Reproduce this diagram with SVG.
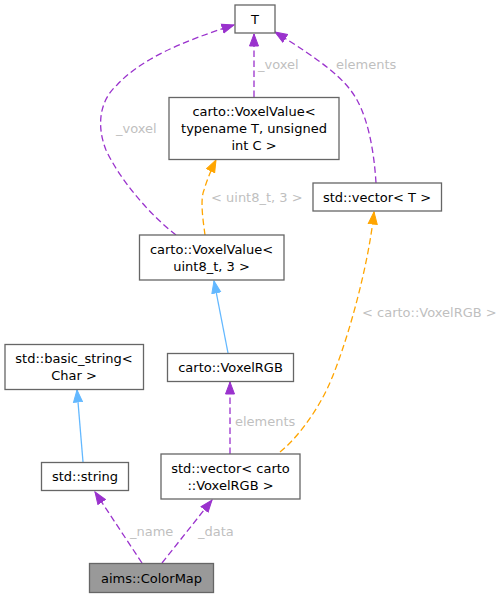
<svg xmlns="http://www.w3.org/2000/svg" width="501" height="597" viewBox="0 0 501 597">
<style>
.node rect{fill:#ffffff;stroke:#666666;stroke-width:1.3}
.node.cur rect{fill:#999999}
text{font-family:"DejaVu Sans","Liberation Sans",sans-serif;font-size:13px;fill:#000000}
.node text{text-anchor:middle}
.lbl{fill:#bfbfbf}
.e{fill:none;stroke-width:1.3}
.purple{stroke:#9a32cd;stroke-dasharray:6.5,3.5}
.orange{stroke:#ffa500;stroke-dasharray:6.5,3.5}
.blue{stroke:#63b8ff}
</style>
<defs>
<marker id="ap" markerUnits="userSpaceOnUse" markerWidth="14" markerHeight="11" refX="12.5" refY="5.5" orient="auto"><path d="M0.5,1 L12.5,5.5 L0.5,10 z" fill="#9a32cd" stroke="#9a32cd"/></marker>
<marker id="ao" markerUnits="userSpaceOnUse" markerWidth="14" markerHeight="11" refX="12.5" refY="5.5" orient="auto"><path d="M0.5,1 L12.5,5.5 L0.5,10 z" fill="#ffa500" stroke="#ffa500"/></marker>
<marker id="ab" markerUnits="userSpaceOnUse" markerWidth="14" markerHeight="11" refX="12.5" refY="5.5" orient="auto"><path d="M0.5,1 L12.5,5.5 L0.5,10 z" fill="#63b8ff" stroke="#63b8ff"/></marker>
</defs>
<g id="edges">
<path class="e blue" d="M83,462 L77,390" marker-end="url(#ab)"/>
<path class="e blue" d="M228,353 L214,281" marker-end="url(#ab)"/>
<path class="e purple" d="M230,454 L230,382" marker-end="url(#ap)"/>
<text class="lbl" x="235" y="426">elements</text>
<path class="e purple" d="M142,563 L95,492" marker-end="url(#ap)"/>
<text class="lbl" x="130" y="536">_name</text>
<path class="e purple" d="M162,563 L212,500" marker-end="url(#ap)"/>
<text class="lbl" x="198" y="536">_data</text>
<path class="e orange" d="M280,452 C295,440 315,415 328,387 C345,350 368,270 374,212" marker-end="url(#ao)"/>
<text class="lbl" x="362" y="317">&lt; carto::VoxelRGB &gt;</text>
<path class="e orange" d="M205,235 C203,220 200,200 204,190 C207,180 211,170 216,160" marker-end="url(#ao)"/>
<text class="lbl" x="211" y="202">&lt; uint8_t, 3 &gt;</text>
<path class="e purple" d="M176,235 C150,215 120,180 106,150 C96,125 100,100 117,85 C140,60 180,42 234,25" marker-end="url(#ap)"/>
<text class="lbl" x="116" y="133">_voxel</text>
<path class="e purple" d="M254,97 L254,34" marker-end="url(#ap)"/>
<text class="lbl" x="258" y="69">_voxel</text>
<path class="e purple" d="M376,183 C374,150 368,120 357,100 C345,78 320,60 275,32" marker-end="url(#ap)"/>
<text class="lbl" x="336" y="69">elements</text>
</g>
<g id="node-T" class="node"><rect x="235" y="5" width="40" height="28"/><text x="255" y="23.5">T</text></g>
<g id="node-VoxelValueT" class="node"><rect x="169" y="97.5" width="170" height="62"/><text x="254" y="116">carto::VoxelValue&lt;</text><text x="254" y="133">typename T, unsigned</text><text x="254" y="150">int C &gt;</text></g>
<g id="node-vectorT" class="node"><rect x="313" y="183" width="128.5" height="28"/><text x="377" y="201.5">std::vector&lt; T &gt;</text></g>
<g id="node-VoxelValueU8" class="node"><rect x="139.5" y="235" width="144.5" height="45"/><text x="211.5" y="253.5">carto::VoxelValue&lt;</text><text x="211.5" y="270.5">uint8_t, 3 &gt;</text></g>
<g id="node-basic_string" class="node"><rect x="5" y="344.5" width="138.5" height="45"/><text x="74" y="363">std::basic_string&lt;</text><text x="74" y="380">Char &gt;</text></g>
<g id="node-VoxelRGB" class="node"><rect x="167.5" y="353.5" width="126" height="28"/><text x="230.5" y="372">carto::VoxelRGB</text></g>
<g id="node-string" class="node"><rect x="41.5" y="462.5" width="87" height="28"/><text x="85" y="481">std::string</text></g>
<g id="node-vectorRGB" class="node"><rect x="161" y="454" width="139" height="45"/><text x="230.5" y="472.5">std::vector&lt; carto</text><text x="230.5" y="489.5">::VoxelRGB &gt;</text></g>
<g id="node-ColorMap" class="node cur"><rect x="89.5" y="563.5" width="124" height="29"/><text x="151.5" y="582.5">aims::ColorMap</text></g>
</svg>
